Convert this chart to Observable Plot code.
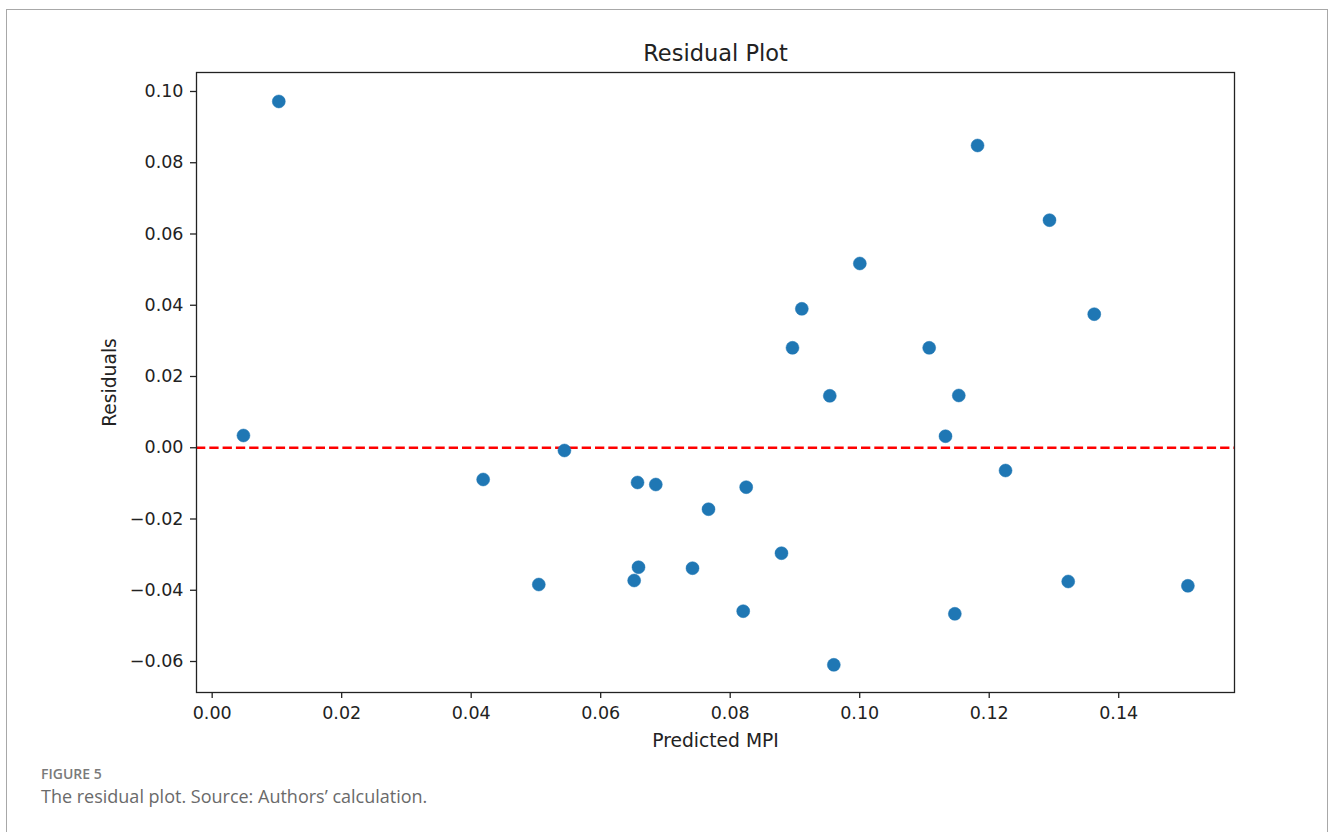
<!DOCTYPE html>
<html>
<head>
<meta charset="utf-8">
<script src="https://cdn.jsdelivr.net/npm/d3@7"></script>
<script src="https://cdn.jsdelivr.net/npm/@observablehq/plot@0.6"></script>
<style>
  html, body { margin: 0; padding: 0; background: #fff; overflow: hidden; width: 1330px; height: 832px; }
  #border { position: absolute; left: 6px; top: 9px; width: 1322px; height: 900px; border: 1px solid #a8a8a8; box-sizing: border-box; }
  #chart { position: absolute; left: 0; top: 0; }
  #fig { position: absolute; left: 41px; top: 764px; font-family: "Open Sans", sans-serif; font-size: 14px; font-weight: 600; color: #7a7a7a; }
  #cap { position: absolute; left: 41px; top: 784px; font-family: "Open Sans", sans-serif; font-size: 18px; font-weight: 400; color: #6a6a6a; }
</style>
</head>
<body>
<div id="border"></div>
<div id="chart"></div>
<div id="fig">FIGURE 5</div>
<div id="cap">The residual plot. Source: Authors’ calculation.</div>
<script>
const predicted = [0.00483, 0.01029, 0.04185, 0.05044, 0.0544, 0.06569, 0.06851, 0.06584, 0.06517, 0.07665,
  0.07418, 0.08247, 0.08792, 0.08201, 0.0960, 0.09538, 0.08962, 0.09106, 0.10002, 0.11073,
  0.11325, 0.1153, 0.11469, 0.12252, 0.1182, 0.12931, 0.13622, 0.1322, 0.15068];
const residuals = [0.00344, 0.0972, -0.00891, -0.03839, -0.00077, -0.00975, -0.01032, -0.03353, -0.03726, -0.01725,
  -0.03381, -0.01107, -0.0296, -0.04588, -0.06093, 0.01458, 0.02805, 0.039, 0.05172, 0.02805,
  0.00324, 0.01467, -0.04661, -0.00639, 0.08484, 0.06388, 0.03749, -0.03754, -0.03875];
const xTicks = [0, 0.02, 0.04, 0.06, 0.08, 0.10, 0.12, 0.14];
const yTicks = [-0.06, -0.04, -0.02, 0, 0.02, 0.04, 0.06, 0.08, 0.10];
const title = "Residual Plot";
const xLabel = "Predicted MPI";
const yLabel = "Residuals";

const data = predicted.map((p, i) => ({p, r: residuals[i]}));
const fmt = d3.format(".2f");

const chart = Plot.plot({
  width: 1330,
  height: 760,
  marginTop: 72,
  marginLeft: 196,
  marginRight: 96,
  marginBottom: 68,
  style: { fontFamily: "'DejaVu Sans', sans-serif", fontSize: "17.5px", color: "#222", background: "transparent" },
  x: { domain: [-0.00242, 0.15788] },
  y: { domain: [-0.0687, 0.10533] },
  marks: [
    Plot.ruleY([0], { stroke: "#ff0000", strokeWidth: 2.5, strokeDasharray: "9.3,4" }),
    Plot.dot(data, { x: "p", y: "r", r: 6.5, fill: "#1f77b4", stroke: "#1f77b4", strokeWidth: 0.5 }),
    Plot.frame({ stroke: "#222", strokeWidth: 1.3 }),
    Plot.axisX({ ticks: xTicks, tickFormat: fmt, tickSize: 6, tickPadding: 8, label: null, stroke: "#222", strokeWidth: 1.3 }),
    Plot.axisY({ ticks: yTicks, tickFormat: fmt, tickSize: 6, tickPadding: 7, label: null, stroke: "#222", strokeWidth: 1.3 }),
    Plot.text([title], { frameAnchor: "top", lineAnchor: "middle", textAnchor: "middle", dy: -19, fontSize: 22.5, fill: "#222" }),
    Plot.text([xLabel], { frameAnchor: "bottom", lineAnchor: "middle", textAnchor: "middle", dy: 49, fontSize: 18.7, fill: "#222" }),
    Plot.text([yLabel], { frameAnchor: "left", lineAnchor: "middle", textAnchor: "middle", dx: -86, rotate: -90, fontSize: 18.7, fill: "#222" })
  ]
});
document.getElementById("chart").appendChild(chart);
</script>
</body>
</html>
